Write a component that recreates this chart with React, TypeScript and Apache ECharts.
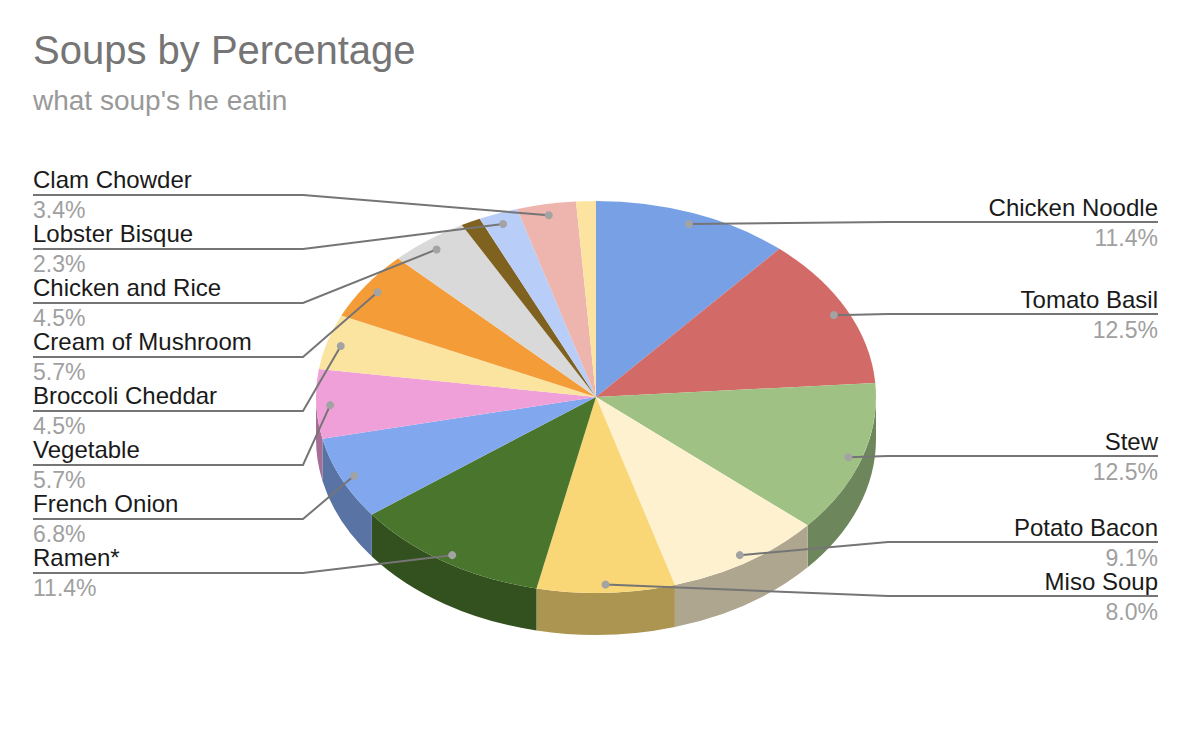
import React, { useEffect, useRef } from "react";
import * as echarts from "echarts";

const sliceNames = [
  "Chicken Noodle", "Tomato Basil", "Stew", "Potato Bacon", "Miso Soup", "Ramen*",
  "French Onion", "Vegetable", "Broccoli Cheddar", "Cream of Mushroom", "Chicken and Rice",
  "", "Lobster Bisque", "Clam Chowder", "",
];
// Counts behind the printed percentages (each label is count / 88)
const sliceValues = [10, 11, 11, 8, 7, 10, 6, 5, 4, 5, 4, 1, 2, 3, 1];
const sliceColors = [
  "#78A0E5", "#D26B67", "#9FC284", "#FDF1CF", "#F9D776", "#4A752C", "#81A8EE", "#F0A0D8",
  "#FBE4A0", "#F49C38", "#D9D9D9", "#7F6120", "#B8CEF8", "#EDB5AD", "#FCE4A0",
];

// Layout only
const CX = 596, CY = 397, RX = 280, RY = 196, DEPTH = 42;
const DOT_R = 0.95;
// row per slice: side and y of the horizontal leader line
const rightRowY: Record<number, number> = { 0: 222, 1: 314, 2: 456, 3: 542, 4: 596 };
const leftRowY: Record<number, number> = { 13: 195, 12: 249, 10: 303, 9: 357, 8: 411, 7: 465, 6: 519, 5: 573 };
const LEFT_X0 = 33, LEFT_X1 = 303, RIGHT_X0 = 888, RIGHT_X1 = 1158;
const FONT = '"Liberation Sans", Arial, sans-serif';

const total = sliceValues.reduce((a, b) => a + b, 0);
const startAngles: number[] = [];
sliceValues.reduce((acc, v, i) => {
  startAngles[i] = (acc / total) * 360;
  return acc + v;
}, 0);

const pt = (deg: number, f = 1, dy = 0): [number, number] => {
  const r = (deg * Math.PI) / 180;
  return [CX + RX * f * Math.sin(r), CY - RY * f * Math.cos(r) + dy];
};
const fmt = (p: [number, number]) => `${p[0].toFixed(2)} ${p[1].toFixed(2)}`;
const shade = (hex: string, k: number) => {
  const n = parseInt(hex.slice(1), 16);
  const c = [(n >> 16) & 255, (n >> 8) & 255, n & 255].map((x) => Math.round(x * k));
  return `rgb(${c[0]},${c[1]},${c[2]})`;
};
const seriesData = sliceValues.map((value, i) => ({ value, name: sliceNames[i] }));

const renderSide = (params: any, api: any) => {
  const i = params.dataIndex;
  const a0 = startAngles[i];
  const a1 = a0 + (api.value(0) / total) * 360;
  const s = Math.max(a0, 90);
  const e = Math.min(a1, 270);
  if (e <= s) return { type: "group", children: [] };
  const d =
    `M ${fmt(pt(s))} A ${RX} ${RY} 0 0 1 ${fmt(pt(e))} ` +
    `L ${fmt(pt(e, 1, DEPTH))} A ${RX} ${RY} 0 0 0 ${fmt(pt(s, 1, DEPTH))} Z`;
  return { type: "path", shape: { pathData: d }, style: { fill: shade(sliceColors[i], 0.69) } };
};

const renderTop = (params: any, api: any) => {
  const i = params.dataIndex;
  const a0 = startAngles[i];
  const a1 = a0 + (api.value(0) / total) * 360;
  const large = a1 - a0 > 180 ? 1 : 0;
  const d = `M ${CX} ${CY} L ${fmt(pt(a0))} A ${RX} ${RY} 0 ${large} 1 ${fmt(pt(a1))} Z`;
  return { type: "path", shape: { pathData: d }, style: { fill: sliceColors[i] } };
};

const renderLeader = (params: any, api: any) => {
  const i = params.dataIndex;
  const name = sliceNames[i];
  if (!name) return { type: "group", children: [] };
  const v = api.value(0);
  const mid = startAngles[i] + ((v / total) * 360) / 2;
  const dot = pt(mid, DOT_R, 1.5);
  const isRight = rightRowY[i] != null;
  const y = isRight ? rightRowY[i] : leftRowY[i];
  const elbow = isRight ? RIGHT_X0 : LEFT_X1;
  const end = isRight ? RIGHT_X1 : LEFT_X0;
  const align = isRight ? "right" : "left";
  return {
    type: "group",
    children: [
      {
        type: "polyline",
        shape: { points: [dot, [elbow, y], [end, y]] },
        style: { stroke: "#757575", lineWidth: 2, fill: "none" },
      },
      { type: "circle", shape: { cx: dot[0], cy: dot[1], r: 4 }, style: { fill: "#A3A3A3" } },
      {
        type: "text",
        style: {
          x: end, y: y - (isRight ? 15 : 16), text: name, fill: "#1A1A1A", align, verticalAlign: "middle",
          fontSize: 24, fontFamily: FONT,
        },
      },
      {
        type: "text",
        style: {
          x: end, y: y + (isRight ? 16 : 15), text: `${((v / total) * 100).toFixed(1)}%`, fill: "#A0A0A0", align,
          verticalAlign: "middle", fontSize: 23, fontFamily: FONT,
        },
      },
    ],
  };
};

export default function App() {
  const ref = useRef<HTMLDivElement>(null);
  useEffect(() => {
    const chart = echarts.init(ref.current!, undefined, { renderer: "svg" });
    chart.setOption({
      animation: false,
      backgroundColor: "#FFFFFF",
      title: [
        {
          text: "Soups by Percentage", left: 28, top: 25,
          textStyle: { color: "#757575", fontSize: 40, fontWeight: "normal", fontFamily: FONT },
        },
        {
          text: "what soup's he eatin", left: 28, top: 81,
          textStyle: { color: "#999999", fontSize: 28, fontWeight: "normal", fontFamily: FONT },
        },
      ],
      series: [
        { type: "custom", coordinateSystem: "none", silent: true, data: seriesData, renderItem: renderSide },
        { type: "custom", coordinateSystem: "none", silent: true, data: seriesData, renderItem: renderTop },
        { type: "custom", coordinateSystem: "none", silent: true, data: seriesData, renderItem: renderLeader },
      ],
    });
    return () => chart.dispose();
  }, []);
  return (
    <div
      ref={ref}
      style={{ position: "absolute", left: 0, top: 0, width: 1196, height: 734, background: "#fff" }}
    />
  );
}
